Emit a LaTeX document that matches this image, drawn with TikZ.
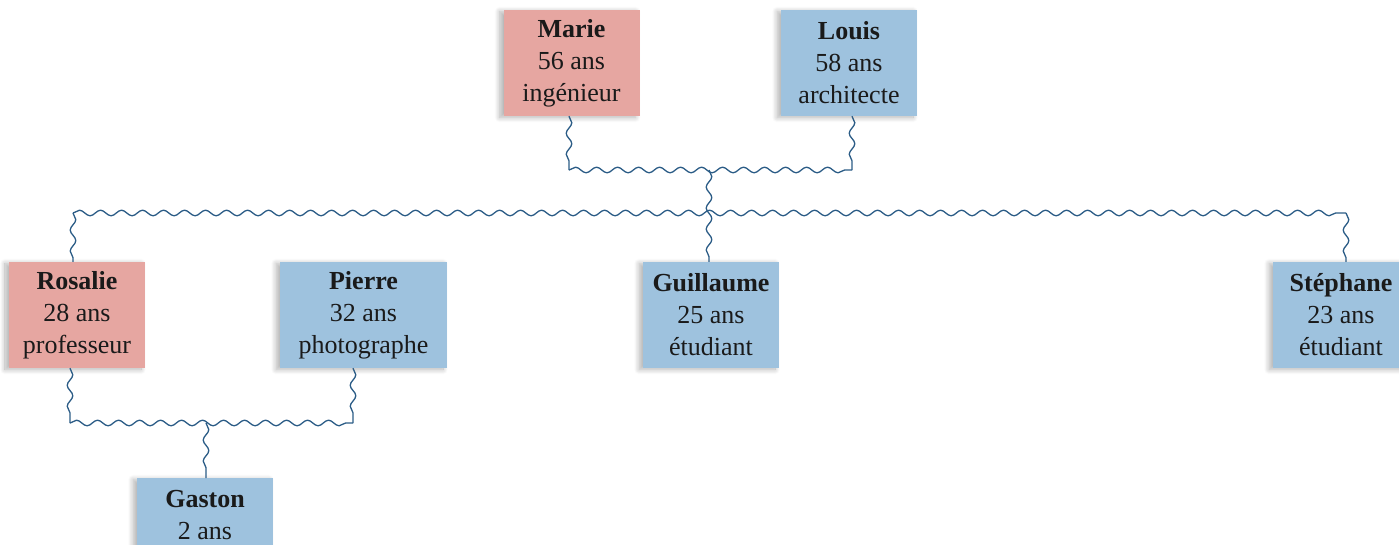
\documentclass[tikz,border=0pt]{standalone}
\usepackage{fontspec}
\setmainfont{Liberation Serif}
\usetikzlibrary{decorations.pathmorphing,shadows.blur}
\definecolor{pinkf}{HTML}{E6A6A1}
\definecolor{bluef}{HTML}{9EC2DE}
\definecolor{wavec}{HTML}{2B5C86}
\definecolor{txt}{HTML}{1A1A1A}
\begin{document}
\begin{tikzpicture}[x=1pt,y=-1pt,
  person/.style={minimum width=136pt, minimum height=106pt, inner xsep=6pt,
    align=center, font=\fontsize{26}{32}\selectfont, text=txt,
    blur shadow={shadow xshift=-4pt, shadow yshift=-1.5pt, shadow blur radius=5pt,
      shadow opacity=30, shadow blur steps=12}},
  female/.style={person, fill=pinkf},
  male/.style={person, fill=bluef},
  wave/.style={draw=wavec, line width=1.3pt, decorate,
    decoration={snake, amplitude=2.8pt, segment length=21pt}}]
\useasboundingbox (0,0) rectangle (1399,544);
\clip (0,0) rectangle (1399,544);

\node[female] (marie) at (571.5,63) {\textbf{Marie}\\56 ans\\ingénieur};
\node[male] (louis) at (849,63) {\textbf{Louis}\\58 ans\\architecte};
\node[female] (rosalie) at (77,315) {\textbf{Rosalie}\\28 ans\\professeur};
\node[male, minimum width=167pt] (pierre) at (363.5,315) {\textbf{Pierre}\\32 ans\\photographe};
\node[male] (guillaume) at (711,315) {\textbf{Guillaume}\\25 ans\\étudiant};
\node[male] (stephane) at (1341,315) {\textbf{Stéphane}\\23 ans\\étudiant};
\node[male, minimum height=74pt, anchor=north] (gaston) at (205,478) {\textbf{Gaston}\\2 ans};

\coordinate (mlc) at (569,170);
\coordinate (llc) at (852,170);
\coordinate (mid) at (709,170);
\coordinate (rl) at (73,213);
\coordinate (sr) at (1346,213);
\coordinate (rpl) at (70,423);
\coordinate (rpr) at (353,423);
\coordinate (rpm) at (206,423);

\draw[wave] (marie.south -| mlc) -- (mlc);
\draw[wave] (louis.south -| llc) -- (llc);
\draw[wave] (mlc) -- (llc);
\draw[wave] (mid) -- (guillaume.north -| mid);
\draw[wave] (rl) -- (sr);
\draw[wave] (rl) -- (rosalie.north -| rl);
\draw[wave] (sr) -- (stephane.north -| sr);

\draw[wave] (rosalie.south -| rpl) -- (rpl);
\draw[wave] (pierre.south -| rpr) -- (rpr);
\draw[wave] (rpl) -- (rpr);
\draw[wave] (rpm) -- (gaston.north -| rpm);
\end{tikzpicture}
\end{document}
